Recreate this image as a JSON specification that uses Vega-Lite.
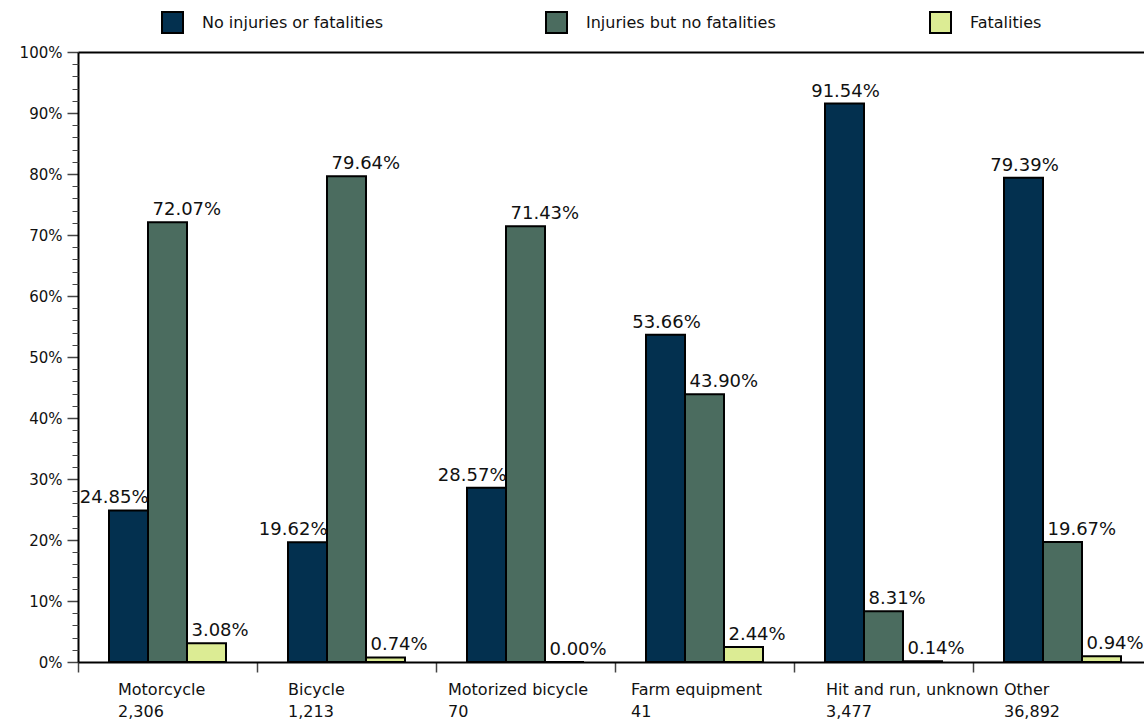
{
  "$schema": "https://vega.github.io/schema/vega-lite/v6.json",
  "width": 1066,
  "height": 610,
  "autosize": {"type": "none"},
  "padding": {"left": 78, "top": 52, "right": 0, "bottom": 63},
  "background": "white",
  "config": {
    "view": {"stroke": null},
    "font": "DejaVu Sans",
    "axis": {"labelFont": "DejaVu Sans", "labelFontSize": 16, "labelColor": "#111111", "title": null, "grid": false}
  },
  "data": {
    "values": [
      {"category": "Motorcycle|2,306", "series": "No injuries or fatalities", "value": 0.2485},
      {"category": "Motorcycle|2,306", "series": "Injuries but no fatalities", "value": 0.7207},
      {"category": "Motorcycle|2,306", "series": "Fatalities", "value": 0.0308},
      {"category": "Bicycle|1,213", "series": "No injuries or fatalities", "value": 0.1962},
      {"category": "Bicycle|1,213", "series": "Injuries but no fatalities", "value": 0.7964},
      {"category": "Bicycle|1,213", "series": "Fatalities", "value": 0.0074},
      {"category": "Motorized bicycle|70", "series": "No injuries or fatalities", "value": 0.2857},
      {"category": "Motorized bicycle|70", "series": "Injuries but no fatalities", "value": 0.7143},
      {"category": "Motorized bicycle|70", "series": "Fatalities", "value": 0.0},
      {"category": "Farm equipment|41", "series": "No injuries or fatalities", "value": 0.5366},
      {"category": "Farm equipment|41", "series": "Injuries but no fatalities", "value": 0.4390},
      {"category": "Farm equipment|41", "series": "Fatalities", "value": 0.0244},
      {"category": "Hit and run, unknown|3,477", "series": "No injuries or fatalities", "value": 0.9154},
      {"category": "Hit and run, unknown|3,477", "series": "Injuries but no fatalities", "value": 0.0831},
      {"category": "Hit and run, unknown|3,477", "series": "Fatalities", "value": 0.0014},
      {"category": "Other|36,892", "series": "No injuries or fatalities", "value": 0.7939},
      {"category": "Other|36,892", "series": "Injuries but no fatalities", "value": 0.1967},
      {"category": "Other|36,892", "series": "Fatalities", "value": 0.0094}
    ]
  },
  "encoding": {
    "x": {"field": "category", "type": "nominal", "sort": null, "scale": {"range": [0, 1074], "paddingInner": 0, "paddingOuter": 0}, "axis": null},
    "xOffset": {"field": "series", "type": "nominal", "sort": ["No injuries or fatalities", "Injuries but no fatalities", "Fatalities"], "scale": {"paddingInner": 0, "paddingOuter": 0.795}},
    "y": {"field": "value", "type": "quantitative", "scale": {"domain": [0, 1], "nice": false}, "axis": null}
  },
  "layer": [
    {
      "mark": {"type": "bar", "stroke": "black", "strokeWidth": 2},
      "encoding": {
        "x": {
          "field": "category", "type": "nominal", "sort": null,
          "scale": {"range": [0, 1074], "paddingInner": 0, "paddingOuter": 0},
          "axis": {
            "orient": "bottom", "bandPosition": 0, "tickSize": 10, "tickColor": "#444444", "tickWidth": 1.5,
            "domainColor": "black", "domainWidth": 2, "labelAngle": 0,
            "labelAlign": "left", "labelBaseline": "top", "labelPadding": 9, "labelLineHeight": 22, "labelFontSize": 16,
            "labelExpr": "split(datum.label, '|')", "labelLimit": 300, "labelOverlap": false, "labelBound": false, "labelFlush": false,
            "labelOffset": {"expr": "datum.value == 'Motorcycle|2,306' ? -49.5 : datum.value == 'Motorized bicycle|70' ? -77.5 : datum.value == 'Farm equipment|41' ? -73.5 : datum.value == 'Hit and run, unknown|3,477' ? -57.5 : -58.5"}
          }
        },
        "y": {
          "field": "value", "type": "quantitative", "scale": {"domain": [0, 1], "nice": false},
          "axis": {
            "orient": "left", "values": [0, 0.1, 0.2, 0.3, 0.4, 0.5, 0.6, 0.7, 0.8, 0.9, 1.0], "format": ".0%",
            "tickSize": 11, "tickColor": "#444444", "tickWidth": 1.5, "labelPadding": 5, "labelFontSize": 15,
            "domainColor": "black", "domainWidth": 2
          }
        },
        "color": {
          "field": "series", "type": "nominal",
          "scale": {"domain": ["No injuries or fatalities", "Injuries but no fatalities", "Fatalities"], "range": ["#03304f", "#4b6c5f", "#dcec94"]},
          "legend": {
            "orient": "none", "legendX": 83, "legendY": -41, "direction": "horizontal", "columns": 3, "gridAlign": "all",
            "columnPadding": 150, "symbolType": "square", "symbolSize": 441, "symbolStrokeColor": "black", "symbolStrokeWidth": 2,
            "labelFontSize": 16, "labelFont": "DejaVu Sans", "labelColor": "#111111", "labelOffset": 18, "title": null, "labelLimit": 400, "padding": 0
          }
        }
      }
    },
    {
      "transform": [{"filter": "datum.series != 'No injuries or fatalities'"}],
      "mark": {"type": "text", "align": "left", "baseline": "alphabetic", "dx": -15, "dy": -7, "font": "DejaVu Sans", "fontSize": 18, "fill": "#111111"},
      "encoding": {
        "x": {
          "field": "category", "type": "nominal", "sort": null,
          "scale": {"range": [0, 1074], "paddingInner": 0, "paddingOuter": 0},
          "axis": {"orient": "top", "ticks": false, "labels": false, "domainColor": "black", "domainWidth": 2}
        },
        "y": {
          "field": "value", "type": "quantitative", "scale": {"domain": [0, 1], "nice": false},
          "axis": {
            "orient": "left", "labels": false, "domain": false, "tickSize": 6, "tickColor": "#444444", "tickWidth": 1,
            "values": [0.02, 0.04, 0.06, 0.08, 0.12, 0.14, 0.16, 0.18, 0.22, 0.24, 0.26, 0.28, 0.32, 0.34, 0.36, 0.38, 0.42, 0.44, 0.46, 0.48, 0.52, 0.54, 0.56, 0.58, 0.62, 0.64, 0.66, 0.68, 0.72, 0.74, 0.76, 0.78, 0.82, 0.84, 0.86, 0.88, 0.92, 0.94, 0.96, 0.98]
          }
        },
        "text": {"field": "value", "type": "quantitative", "format": ".2%"}
      }
    },
    {
      "transform": [
        {"joinaggregate": [{"op": "max", "field": "value", "as": "maxv"}], "groupby": ["category"]},
        {"filter": "datum.series == 'No injuries or fatalities' && datum.value >= datum.maxv"}
      ],
      "mark": {"type": "text", "align": "center", "baseline": "alphabetic", "dx": 1, "dy": -7, "font": "DejaVu Sans", "fontSize": 18, "fill": "#111111"},
      "encoding": {
        "text": {"field": "value", "type": "quantitative", "format": ".2%"}
      }
    },
    {
      "transform": [
        {"joinaggregate": [{"op": "max", "field": "value", "as": "maxv"}], "groupby": ["category"]},
        {"filter": "datum.series == 'No injuries or fatalities' && datum.value < datum.maxv"}
      ],
      "mark": {"type": "text", "align": "right", "baseline": "alphabetic", "dx": 20, "dy": -7, "font": "DejaVu Sans", "fontSize": 18, "fill": "#111111"},
      "encoding": {
        "text": {"field": "value", "type": "quantitative", "format": ".2%"}
      }
    }
  ],
  "resolve": {"axis": {"x": "independent", "y": "independent"}}
}
